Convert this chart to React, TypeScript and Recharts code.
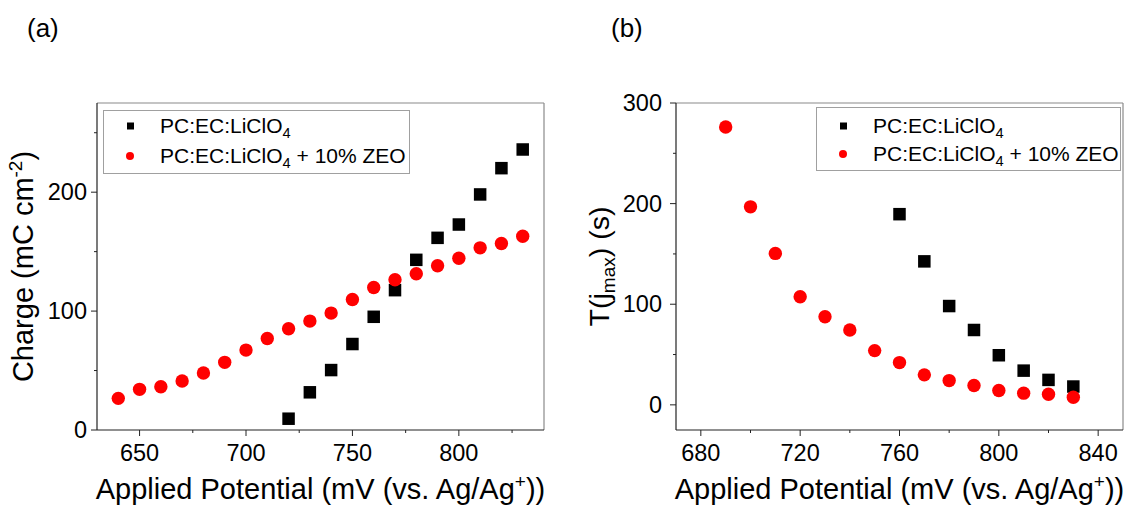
import { Legend, ReferenceLine, Scatter, ScatterChart, XAxis, YAxis } from "recharts";

const FONT = "'Liberation Sans', Arial, sans-serif";
const AXIS = "#222";
const FRAME = "#8a8a8a";

// panel (a): charge vs applied potential
const potentialAPlain = [720, 730, 740, 750, 760, 770, 780, 790, 800, 810, 820, 830];
const chargePlain = [9.5, 31.7, 50.4, 72.3, 95.2, 117.6, 143.1, 161.6, 172.8, 198.1, 220.2, 235.9];
const potentialAZeo = [640, 650, 660, 670, 680, 690, 700, 710, 720, 730, 740, 750, 760, 770, 780, 790, 800, 810, 820, 830];
const chargeZeo = [26.6, 34.2, 36.4, 41.2, 47.9, 56.9, 67.2, 77.0, 85.2, 91.6, 98.3, 109.8, 119.9, 126.3, 131.4, 138.1, 144.5, 153.2, 156.9, 163.0];

// panel (b): time of max current vs applied potential
const potentialBPlain = [760, 770, 780, 790, 800, 810, 820, 830];
const timePlain = [189.5, 142.6, 98.2, 74.4, 49.3, 34.0, 24.8, 18.2];
const potentialBZeo = [690, 700, 710, 720, 730, 740, 750, 760, 770, 780, 790, 800, 810, 820, 830];
const timeZeo = [276.2, 196.8, 150.5, 107.5, 87.6, 74.4, 53.9, 42.0, 29.8, 24.1, 19.2, 14.2, 11.6, 10.6, 7.6];

const xTicksA = [650, 675, 700, 725, 750, 775, 800, 825];
const xMajorA = [650, 700, 750, 800];
const yTicksA = [0, 50, 100, 150, 200, 250];
const yMajorA = [0, 100, 200];
const xTicksB = [680, 700, 720, 740, 760, 780, 800, 820, 840];
const xMajorB = [680, 720, 760, 800, 840];
const yTicksB = [0, 50, 100, 150, 200, 250, 300];
const yMajorB = [0, 100, 200, 300];

const SERIES_PLAIN = "PC:EC:LiClO4";
const SERIES_ZEO = "PC:EC:LiClO4 + 10% ZEO";

const toPoints = (xs: number[], ys: number[]) => xs.map((x, i) => ({ x, y: ys[i] }));

const squareShape = (p: any) => <rect x={p.cx - 6.25} y={p.cy - 6.25} width={12.5} height={12.5} fill="#000" />;
const circleShape = (p: any) => <circle cx={p.cx} cy={p.cy} r={6.7} fill="#ff0000" />;

const xTick = (majors: number[]) => (props: any) => {
  const { x, y, payload } = props;
  const major = majors.includes(payload.value);
  return (
    <g>
      <line x1={x} x2={x} y1={y} y2={y + (major ? 6 : 3)} stroke={AXIS} />
      {major && (
        <text x={x} y={y + 31} textAnchor="middle" fontSize={23.5} fontFamily={FONT} fill="#000">
          {payload.value}
        </text>
      )}
    </g>
  );
};

const yTick = (majors: number[], gap: number) => (props: any) => {
  const { x, y, payload } = props;
  const major = majors.includes(payload.value);
  return (
    <g>
      <line x1={x - (major ? 6 : 3)} x2={x} y1={y} y2={y} stroke={AXIS} />
      {major && (
        <text x={x - gap} y={y + 8} textAnchor="end" fontSize={23.5} fontFamily={FONT} fill="#000">
          {payload.value}
        </text>
      )}
    </g>
  );
};

const XTitle = ({ viewBox }: any) => (
  <text x={viewBox.x + viewBox.width / 2} y={viewBox.y + 69} textAnchor="middle" fontSize={29} fontFamily={FONT} fill="#000">
    Applied Potential (mV (vs. Ag/Ag
    <tspan dy={-11} fontSize={19}>+</tspan>
    <tspan dy={11}>))</tspan>
  </text>
);

const ChargeTitle = ({ viewBox }: any) => {
  const x = 33;
  const y = viewBox.y + viewBox.height / 2;
  return (
    <text x={x} y={y} transform={`rotate(-90, ${x}, ${y})`} textAnchor="middle" fontSize={29} fontFamily={FONT} fill="#000">
      Charge (mC cm
      <tspan dy={-11} fontSize={19}>-2</tspan>
      <tspan dy={11}>)</tspan>
    </text>
  );
};

const TimeTitle = ({ viewBox }: any) => {
  const x = 39;
  const y = viewBox.y + viewBox.height / 2;
  return (
    <text x={x} y={y} transform={`rotate(-90, ${x}, ${y})`} textAnchor="middle" fontSize={28.5} fontFamily={FONT} fill="#000">
      T(j
      <tspan dy={6} fontSize={19}>max</tspan>
      <tspan dy={-6}>) (s)</tspan>
    </text>
  );
};

function formatName(name: string) {
  const [head, tail] = name.split("ClO4");
  return (
    <span>
      {head}ClO<span style={{ fontSize: "0.7em", position: "relative", top: "0.35em" }}>4</span>
      {tail}
    </span>
  );
}

const legendBox = (width: number, padTop: number, rowH: number) => (props: any) => (
  <div
    style={{
      width,
      height: 64,
      boxSizing: "border-box",
      border: "1.5px solid #a0a0a0",
      background: "#fff",
      paddingTop: padTop,
      fontFamily: FONT,
      fontSize: 21,
      color: "#000",
    }}
  >
    {props.payload.map((entry: any) => (
      <div key={entry.value} style={{ height: rowH, display: "flex", alignItems: "center", whiteSpace: "nowrap" }}>
        <svg width={56} height={rowH} style={{ flex: "none" }}>
          {entry.type === "square" ? (
            <rect x={23} y={rowH / 2 - 3.5} width={7} height={7} fill="#000" />
          ) : (
            <circle cx={26} cy={rowH / 2} r={4} fill="#ff0000" />
          )}
        </svg>
        {formatName(entry.value)}
      </div>
    ))}
  </div>
);

type PanelProps = {
  left: number;
  width: number;
  yAxisWidth: number;
  marginRight: number;
  xDomain: [number, number];
  yDomain: [number, number];
  xTicks: number[];
  xMajor: number[];
  yTicks: number[];
  yMajor: number[];
  yGap: number;
  plain: { x: number; y: number }[];
  zeo: { x: number; y: number }[];
  yTitle: any;
  legendPos: { left: number; top: number; width: number; padTop: number; rowH: number };
};

function Panel(p: PanelProps) {
  return (
    <div style={{ position: "absolute", left: p.left, top: 0 }}>
      <ScatterChart width={p.width} height={507} margin={{ top: 103, right: p.marginRight, bottom: 0, left: 0 }}>
        <XAxis
          type="number"
          dataKey="x"
          domain={p.xDomain}
          ticks={p.xTicks}
          interval={0}
          allowDataOverflow
          height={77}
          tickSize={0}
          tickMargin={0}
          tickLine={false}
          axisLine={{ stroke: AXIS, strokeWidth: 1.2 }}
          tick={xTick(p.xMajor)}
          label={<XTitle />}
        />
        <YAxis
          type="number"
          dataKey="y"
          domain={p.yDomain}
          ticks={p.yTicks}
          interval={0}
          allowDataOverflow
          width={p.yAxisWidth}
          tickSize={0}
          tickMargin={0}
          tickLine={false}
          axisLine={{ stroke: AXIS, strokeWidth: 1.2 }}
          tick={yTick(p.yMajor, p.yGap)}
          label={p.yTitle}
        />
        <ReferenceLine y={p.yDomain[1]} stroke={FRAME} strokeWidth={1.2} />
        <ReferenceLine x={p.xDomain[1]} stroke={FRAME} strokeWidth={1.2} />
        <Legend
          layout="vertical"
          align="center"
          verticalAlign="middle"
          wrapperStyle={{ left: p.legendPos.left, top: p.legendPos.top, width: p.legendPos.width }}
          content={legendBox(p.legendPos.width, p.legendPos.padTop, p.legendPos.rowH)}
        />
        <Scatter name={SERIES_PLAIN} data={p.plain} fill="#000" legendType="square" shape={squareShape} isAnimationActive={false} />
        <Scatter name={SERIES_ZEO} data={p.zeo} fill="#ff0000" legendType="circle" shape={circleShape} isAnimationActive={false} />
      </ScatterChart>
    </div>
  );
}

export default function App() {
  return (
    <div style={{ position: "absolute", left: 0, top: 0, width: 1132, height: 507, background: "#fff" }}>
      <Panel
        left={0}
        width={560}
        yAxisWidth={97}
        marginRight={16}
        xDomain={[630, 840]}
        yDomain={[0, 275]}
        xTicks={xTicksA}
        xMajor={xMajorA}
        yTicks={yTicksA}
        yMajor={yMajorA}
        yGap={10}
        plain={toPoints(potentialAPlain, chargePlain)}
        zeo={toPoints(potentialAZeo, chargeZeo)}
        yTitle={<ChargeTitle />}
        legendPos={{ left: 103, top: 110, width: 307, padTop: 0, rowH: 30 }}
      />
      <Panel
        left={570}
        width={562}
        yAxisWidth={106}
        marginRight={9}
        xDomain={[670, 850]}
        yDomain={[-25, 300]}
        xTicks={xTicksB}
        xMajor={xMajorB}
        yTicks={yTicksB}
        yMajor={yMajorB}
        yGap={14}
        plain={toPoints(potentialBPlain, timePlain)}
        zeo={toPoints(potentialBZeo, timeZeo)}
        yTitle={<TimeTitle />}
        legendPos={{ left: 246, top: 107, width: 305, padTop: 4, rowH: 28 }}
      />
      <svg width={1132} height={60} style={{ position: "absolute", left: 0, top: 0, pointerEvents: "none" }}>
        <text x={27} y={37} fontSize={26} fontFamily={FONT} fill="#000">(a)</text>
        <text x={611} y={37} fontSize={26} fontFamily={FONT} fill="#000">(b)</text>
      </svg>
    </div>
  );
}
